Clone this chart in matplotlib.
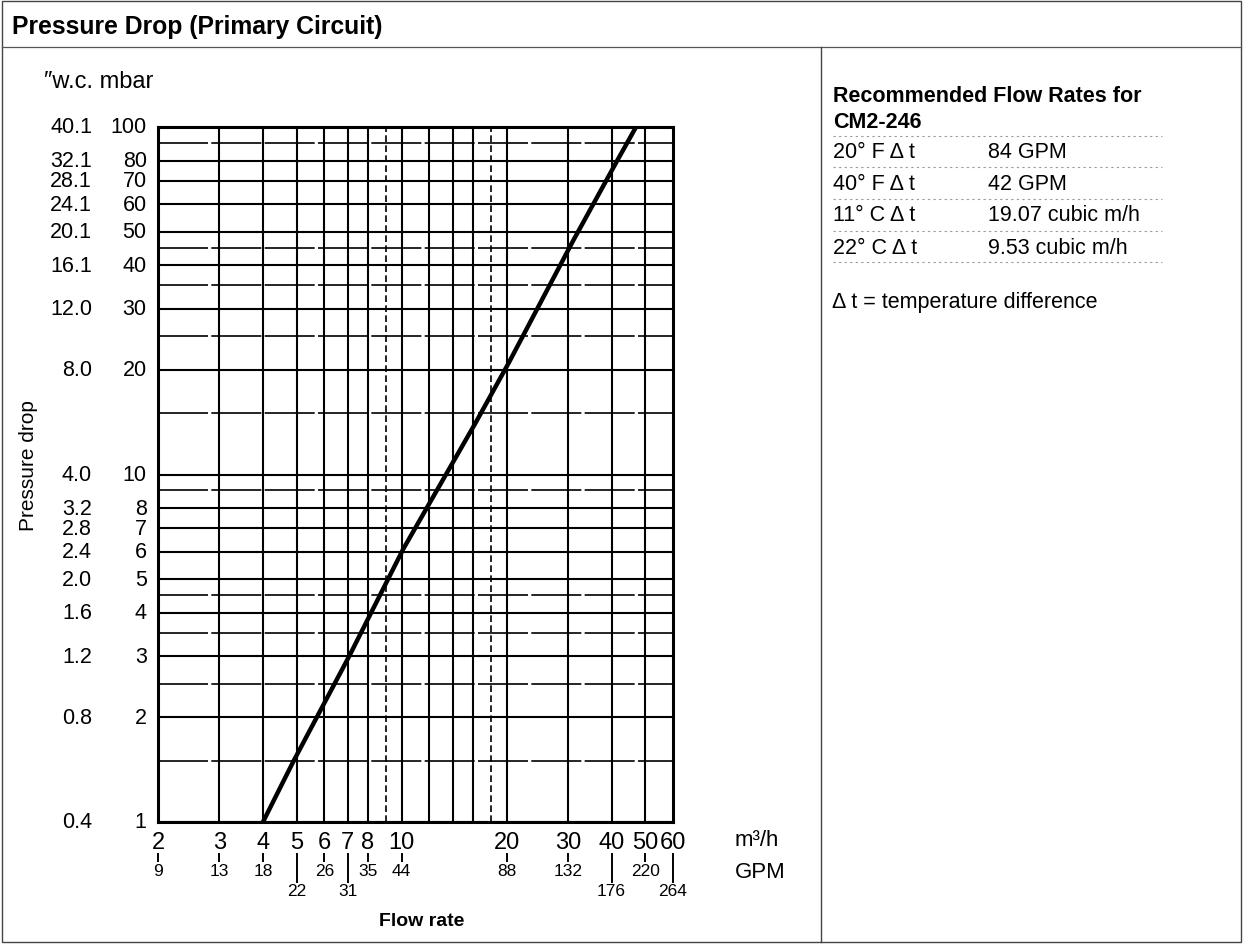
import matplotlib
matplotlib.use("Agg")
import matplotlib.pyplot as plt
from matplotlib.lines import Line2D
from matplotlib.patches import Rectangle

plt.rcParams['font.family'] = ['Liberation Sans', 'DejaVu Sans']

# curve: flow (m3/h) vs pressure drop (mbar)
flow = [4, 4.9, 7.07, 10.1, 16.3, 20.3, 31, 41.5, 47]
drop = [1, 1.5, 3.0, 6.1, 14.1, 21, 47, 80, 100]

# y axis: mbar ticks and the matching "w.c. labels
mbar_ticks = [1, 2, 3, 4, 5, 6, 7, 8, 10, 20, 30, 40, 50, 60, 70, 80, 100]
wc_labels = ["0.4", "0.8", "1.2", "1.6", "2.0", "2.4", "2.8", "3.2", "4.0",
             "8.0", "12.0", "16.1", "20.1", "24.1", "28.1", "32.1", "40.1"]
mbar_minor = [1.5, 2.5, 3.5, 4.5, 9, 15, 25, 35, 45, 90]

# x axis: m3/h ticks and the matching GPM labels
m3h_ticks = [2, 3, 4, 5, 6, 7, 8, 10, 20, 30, 40, 50, 60]
gpm_labels = ["9", "13", "18", "22", "26", "31", "35", "44", "88", "132", "176", "220", "264"]
gpm_low = [False, False, False, True, False, True, False, False, False, False, True, False, True]
flow_grid = [3, 4, 5, 6, 7, 8, 10, 12, 14, 16, 20, 30, 40, 50]
flow_grid_dashed = [9, 18]

# recommended flow rate table
rate_rows = ["20° F Δ t", "40° F Δ t", "11° C Δ t", "22° C Δ t"]
rate_values = ["84 GPM", "42 GPM", "19.07 cubic m/h", "9.53 cubic m/h"]

W, H = 1243, 945


def fx(x):
    return x / W


def fy(y):
    return 1 - y / H


fig = plt.figure(figsize=(W / 100, H / 100), dpi=100)

# outer frame and panel dividers
fig.add_artist(Rectangle((fx(2), fy(943)), fx(1239), 941 / H, fill=False,
                         lw=1.0, edgecolor='#444444', transform=fig.transFigure))
fig.add_artist(Line2D([fx(2), fx(1241)], [fy(48), fy(48)], lw=0.9, color='#555555'))
fig.add_artist(Line2D([fx(821), fx(821)], [fy(48), fy(943)], lw=1.0, color='#444444'))

fig.text(fx(12), fy(27), "Pressure Drop (Primary Circuit)", fontsize=17.8,
         fontweight='bold', va='center', ha='left')

# chart
L, R, T, B = 158, 673, 128, 823
ax = fig.add_axes([fx(L), fy(B), (R - L) / W, (B - T) / H])
ax.set_xscale('log')
ax.set_yscale('log')
ax.set_xlim(2, 60)
ax.set_ylim(1, 100)
ax.tick_params(which='both', length=0, labelbottom=False, labelleft=False)
ax.minorticks_off()
for s in ax.spines.values():
    s.set_linewidth(2.2)

for v in mbar_ticks:
    ax.axhline(v, color='black', lw=1.5)
for v in mbar_minor:
    ax.axhline(v, color='black', lw=1.2, dashes=(30, 2))
for v in flow_grid:
    ax.axvline(v, color='black', lw=1.5)
for v in flow_grid_dashed:
    ax.axvline(v, color='black', lw=1.2, dashes=(4, 2))

ax.plot(flow, drop, color='black', lw=3.2, solid_capstyle='butt')

# y labels, two columns
ytr = ax.get_yaxis_transform()
for v, lab in zip(mbar_ticks, wc_labels):
    ax.text(-0.022, v, str(v), transform=ytr, ha='right', va='center', fontsize=15.5)
    ax.text(-0.128, v, lab, transform=ytr, ha='right', va='center', fontsize=15.5)

# x labels with GPM below
xtr = ax.get_xaxis_transform()


def ay(y):
    return (B - y) / (B - T)


for v, g, low in zip(m3h_ticks, gpm_labels, gpm_low):
    ax.text(v, ay(843), str(v), transform=xtr, ha='center', va='center',
            fontsize=17, clip_on=False)
    end = 883 if low else 862
    ax.plot([v, v], [ay(855), ay(end)], transform=xtr, color='black', lw=1.4,
            clip_on=False)
    ax.text(v, ay(892 if low else 872), g, transform=xtr, ha='center', va='center',
            fontsize=12.5, clip_on=False)

fig.text(fx(735), fy(841), "m³/h", fontsize=16, ha='left', va='center')
fig.text(fx(735), fy(873), "GPM", fontsize=16, ha='left', va='center')
fig.text(fx(422), fy(922), "Flow rate", fontsize=14, fontweight='bold',
         ha='center', va='center')
fig.text(fx(28), fy(466), "Pressure drop", fontsize=15, rotation=90,
         ha='center', va='center')
fig.text(fx(44), fy(82), "\u2033w.c. mbar", fontsize=17, ha='left', va='center')

# table on the right
fig.text(fx(833), fy(96), "Recommended Flow Rates for", fontsize=15.5,
         fontweight='bold', ha='left', va='center')
fig.text(fx(833), fy(122), "CM2-246", fontsize=15.5, fontweight='bold',
         ha='left', va='center')
row_y = [153, 184, 216, 248]
for y, a, b in zip(row_y, rate_rows, rate_values):
    fig.text(fx(833), fy(y), a, fontsize=15.5, ha='left', va='center')
    fig.text(fx(988), fy(y), b, fontsize=15.5, ha='left', va='center')
for y in [137, 168, 200, 232, 263]:
    fig.add_artist(Line2D([fx(833), fx(1162)], [fy(y), fy(y)], lw=0.8,
                          color='#999999', linestyle=(0, (2, 3))))
fig.text(fx(832), fy(303), "Δ t = temperature difference", fontsize=15.5,
         ha='left', va='center')

fig.savefig("out.png", dpi=100)
